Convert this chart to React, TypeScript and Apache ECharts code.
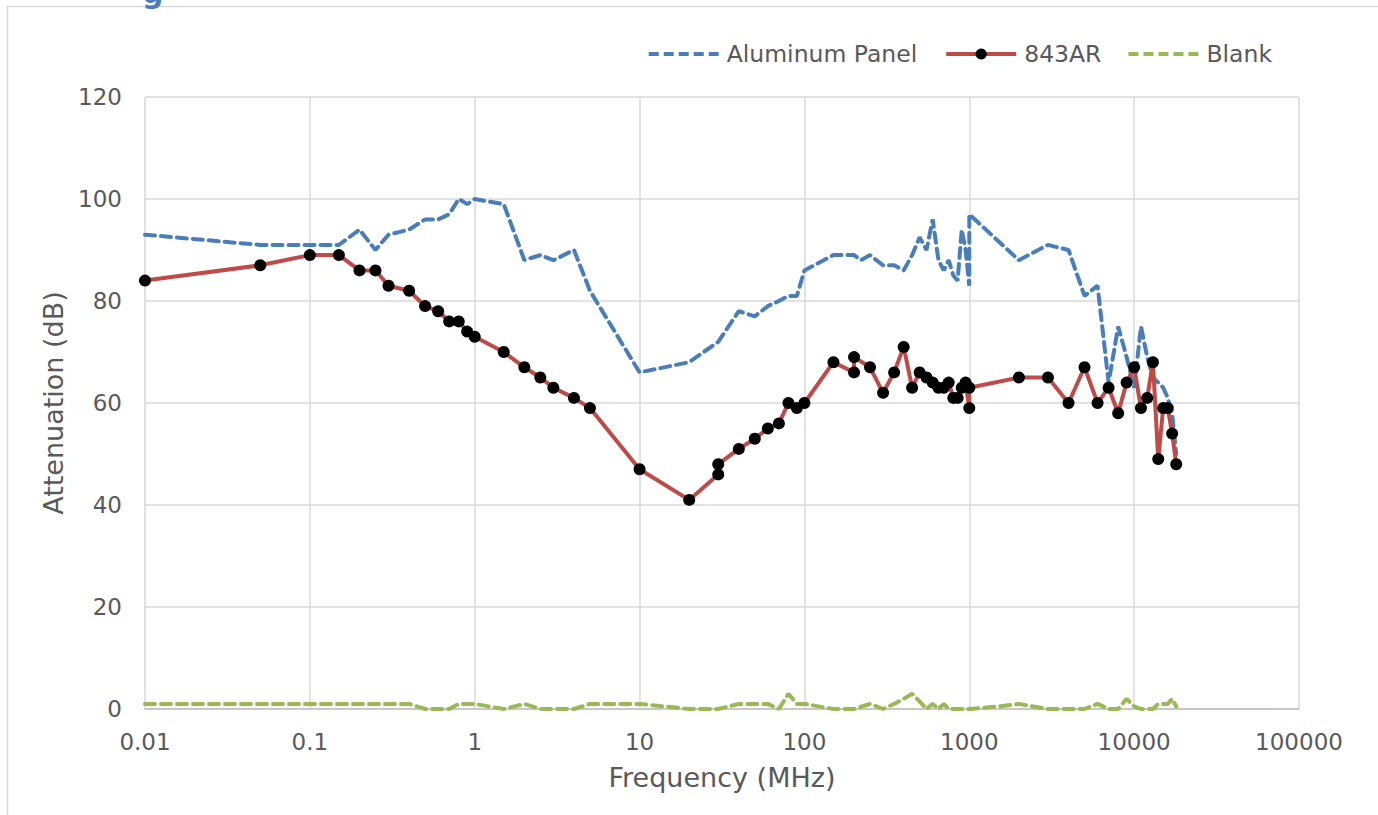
import React, { useEffect, useRef } from "react";
import * as echarts from "echarts";

const xTickLabels = ["0.01", "0.1", "1", "10", "100", "1000", "10000", "100000"];

const freqAl = [0.01, 0.05, 0.1, 0.15, 0.2, 0.25, 0.3, 0.4, 0.5, 0.6, 0.7, 0.8, 0.9, 1, 1.5, 2, 2.5, 3, 4, 5, 10, 20, 30, 40, 50, 60, 70, 80, 90, 100, 150, 200, 220, 250, 300, 350, 400, 450, 500, 550, 600, 650, 700, 750, 800, 850, 900, 950, 1000, 1000, 2000, 3000, 4000, 5000, 6000, 7000, 8000, 9000, 10000, 11000, 12000, 13000, 14000, 15000, 16000, 17000, 18000];
const attAl = [93, 91, 91, 91, 94, 90, 93, 94, 96, 96, 97, 100, 99, 100, 99, 88, 89, 88, 90, 82, 66, 68, 72, 78, 77, 79, 80, 81, 81, 86, 89, 89, 88, 89, 87, 87, 86, 89, 92.5, 90, 96, 88, 86, 88, 85, 84, 94, 90, 83, 97, 88, 91, 90, 81, 83, 64, 75, 69, 63, 75, 69, 65, 64, 63, 61, 58, 50];

const freq843 = [0.01, 0.05, 0.1, 0.15, 0.2, 0.25, 0.3, 0.4, 0.5, 0.6, 0.7, 0.8, 0.9, 1, 1.5, 2, 2.5, 3, 4, 5, 10, 20, 30, 30, 40, 50, 60, 70, 80, 90, 100, 150, 200, 200, 250, 300, 350, 400, 450, 500, 550, 600, 650, 700, 750, 800, 850, 900, 950, 1000, 1000, 2000, 3000, 4000, 5000, 6000, 7000, 8000, 9000, 10000, 11000, 12000, 13000, 14000, 15000, 16000, 17000, 18000];
const att843 = [84, 87, 89, 89, 86, 86, 83, 82, 79, 78, 76, 76, 74, 73, 70, 67, 65, 63, 61, 59, 47, 41, 46, 48, 51, 53, 55, 56, 60, 59, 60, 68, 66, 69, 67, 62, 66, 71, 63, 66, 65, 64, 63, 63, 64, 61, 61, 63, 64, 59, 63, 65, 65, 60, 67, 60, 63, 58, 64, 67, 59, 61, 68, 49, 59, 59, 54, 48];

const freqBl = [0.01, 0.05, 0.1, 0.15, 0.2, 0.25, 0.3, 0.4, 0.5, 0.6, 0.7, 0.8, 0.9, 1, 1.5, 2, 2.5, 3, 4, 5, 10, 20, 30, 40, 50, 60, 70, 80, 90, 100, 150, 200, 250, 300, 350, 400, 450, 500, 550, 600, 650, 700, 750, 800, 850, 900, 950, 1000, 1500, 2000, 3000, 4000, 5000, 6000, 7000, 8000, 9000, 10000, 11000, 12000, 13000, 14000, 15000, 16000, 17000, 18000];
const attBl = [1, 1, 1, 1, 1, 1, 1, 1, 0, 0, 0, 1, 1, 1, 0, 1, 0, 0, 0, 1, 1, 0, 0, 1, 1, 1, 0, 3, 1, 1, 0, 0, 1, 0, 1, 2, 3, 1.5, 0, 1, 0, 1, 0, 0, 0, 0, 0, 0, 0.5, 1, 0, 0, 0, 1, 0, 0, 2, 0.5, 0, 0, 0, 1, 1, 1, 2, 0.5];

const zip = (xs: number[], ys: number[]) => xs.map((x, i) => [x, ys[i]]);

const FONT = "DejaVu Sans";
const TXT = "#595959";
const BLUE = "#4a7ebb";
const RED = "#be4b48";
const GREEN = "#98b954";
const DASH_ICON = "path://M0,0h10v4h-10z M15,0h10v4h-10z M30,0h10v4h-10z M45,0h10v4h-10z M60,0h10v4h-10z";

export default function App() {
  const ref = useRef<HTMLDivElement>(null);
  useEffect(() => {
    document.body.style.margin = "0";
    const chart = echarts.init(ref.current!, undefined, { renderer: "svg" });
    chart.setOption({
      animation: false,
      textStyle: { fontFamily: FONT, color: TXT },
      grid: { left: 145, right: 79, top: 97, bottom: 106, containLabel: false },
      legend: {
        right: 101,
        top: 37,
        itemWidth: 70,
        itemHeight: 14,
        itemGap: 27,
        lineStyle: { width: 4 },
        textStyle: { fontSize: 23.5, color: TXT, fontFamily: FONT, padding: [0, 0, 0, 3] },
        data: [
          { name: "Aluminum Panel", icon: DASH_ICON },
          { name: "843AR" },
          { name: "Blank", icon: DASH_ICON },
        ],
      },
      graphic: [
        {
          type: "rect",
          z: -10,
          silent: true,
          shape: { x: 7.5, y: 6.5, width: 1500, height: 1000 },
          style: { fill: "none", stroke: "#d9d9d9", lineWidth: 1.5 },
        },
        {
          type: "text",
          x: 142,
          y: 7,
          silent: true,
          style: {
            text: "g",
            fontSize: 30,
            fontWeight: "bold",
            fontFamily: FONT,
            fill: BLUE,
            verticalAlign: "bottom",
          },
        },
      ],
      xAxis: {
        type: "log",
        logBase: 10,
        min: 0.01,
        max: 100000,
        name: "Frequency (MHz)",
        nameLocation: "middle",
        nameGap: 55,
        nameTextStyle: { fontSize: 27, color: TXT, fontFamily: FONT },
        axisLine: { show: true, lineStyle: { color: "#bfbfbf", width: 1.5 } },
        axisTick: { show: false },
        axisLabel: {
          fontSize: 23,
          color: TXT,
          margin: 21,
          formatter: (v: number) => xTickLabels[Math.round(Math.log10(v)) + 2] ?? "",
        },
        splitLine: { show: true, lineStyle: { color: "#d9d9d9", width: 1.5 } },
        minorSplitLine: { show: false },
      },
      yAxis: {
        type: "value",
        min: 0,
        max: 120,
        interval: 20,
        name: "Attenuation (dB)",
        nameLocation: "middle",
        nameGap: 76,
        nameTextStyle: { fontSize: 27, color: TXT, fontFamily: FONT },
        axisLine: { show: false },
        axisTick: { show: false },
        axisLabel: { fontSize: 23, color: TXT, margin: 23 },
        splitLine: { show: true, lineStyle: { color: "#d9d9d9", width: 1.5 } },
      },
      series: [
        {
          name: "Aluminum Panel",
          type: "line",
          data: zip(freqAl, attAl),
          showSymbol: false,
          symbol: "none",
          color: BLUE,
          lineStyle: { color: BLUE, width: 4, type: [10, 6], cap: "round" },
          z: 2,
        },
        {
          name: "843AR",
          type: "line",
          data: zip(freq843, att843),
          symbol: "circle",
          symbolSize: 12,
          color: RED,
          itemStyle: { color: "#000000", borderWidth: 0 },
          lineStyle: { color: RED, width: 4 },
          z: 3,
        },
        {
          name: "Blank",
          type: "line",
          data: zip(freqBl, attBl),
          showSymbol: false,
          symbol: "none",
          color: GREEN,
          lineStyle: { color: GREEN, width: 4, type: [10, 6], cap: "round" },
          z: 2,
        },
      ],
    });
    return () => chart.dispose();
  }, []);
  return <div ref={ref} style={{ width: 1378, height: 815 }} />;
}
